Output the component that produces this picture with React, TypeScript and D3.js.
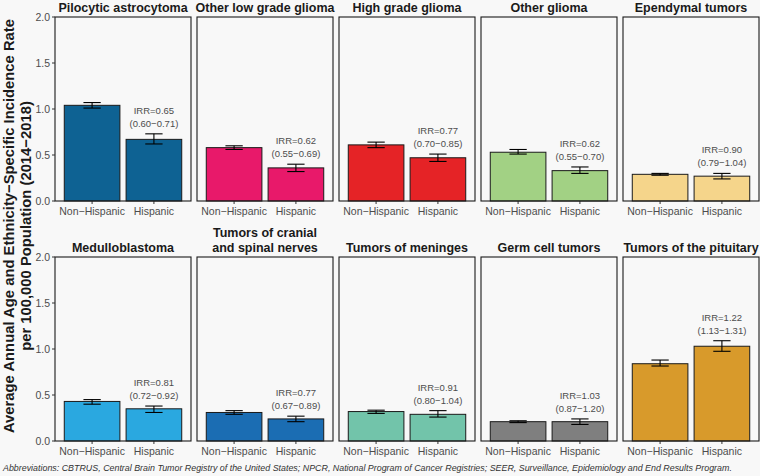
import React from "react";
import * as d3 from "d3";

const groups = ["Non−Hispanic", "Hispanic"];
const titles = [
  ["Pilocytic astrocytoma"],
  ["Other low grade glioma"],
  ["High grade glioma"],
  ["Other glioma"],
  ["Ependymal tumors"],
  ["Medulloblastoma"],
  ["Tumors of cranial", "and spinal nerves"],
  ["Tumors of meninges"],
  ["Germ cell tumors"],
  ["Tumors of the pituitary"],
];
const colors = [
  "#0e6293", "#e8196a", "#e52326", "#a2d184", "#f5d58b",
  "#2aa8e0", "#1b6db3", "#72c4aa", "#7f7f7f", "#d89a2b",
];
const nonHispanicRate = [1.04, 0.58, 0.61, 0.53, 0.29, 0.43, 0.31, 0.32, 0.21, 0.84];
const nonHispanicLow = [1.01, 0.56, 0.58, 0.51, 0.28, 0.40, 0.29, 0.30, 0.20, 0.815];
const nonHispanicHigh = [1.07, 0.60, 0.64, 0.56, 0.30, 0.45, 0.33, 0.335, 0.22, 0.88];
const hispanicRate = [0.67, 0.36, 0.47, 0.33, 0.27, 0.35, 0.24, 0.29, 0.21, 1.03];
const hispanicLow = [0.62, 0.32, 0.43, 0.30, 0.24, 0.31, 0.21, 0.26, 0.18, 0.975];
const hispanicHigh = [0.73, 0.40, 0.51, 0.37, 0.30, 0.38, 0.27, 0.33, 0.24, 1.09];
const irr = ["0.65", "0.62", "0.77", "0.62", "0.90", "0.81", "0.77", "0.91", "1.03", "1.22"];
const irrCI = ["0.60−0.71", "0.55−0.69", "0.70−0.85", "0.55−0.70", "0.79−1.04", "0.72−0.92", "0.67−0.89", "0.80−1.04", "0.87−1.20", "1.13−1.31"];
const yTicks = [0, 0.5, 1, 1.5, 2];

const W = 760;
const H = 476;
const panelW = 136;
const panelH = 184;
const panelLefts = [55, 197, 339, 481, 623];
const rowTops = [17, 257];
const bg = "#f8f8f8";
const font = "'Liberation Sans', Arial, Helvetica, sans-serif";

function Panel({ i }: { i: number }) {
  const col = i % 5;
  const row = Math.floor(i / 5);
  const x0 = panelLefts[col];
  const y0 = rowTops[row];
  const x = d3.scalePoint<string>().domain(groups).range([0, panelW]).padding(0.6);
  const y = d3.scaleLinear().domain([0, 2]).range([panelH, 0]);
  const step = x.step();
  const bw = step * 0.9;
  const cw = step * 0.28;
  const vals = [nonHispanicRate[i], hispanicRate[i]];
  const lows = [nonHispanicLow[i], hispanicLow[i]];
  const highs = [nonHispanicHigh[i], hispanicHigh[i]];
  const hx = x("Hispanic")!;
  const topErr = y(hispanicHigh[i]);
  const t = titles[i];
  return (
    <g transform={`translate(${x0},${y0})`}>
      <rect x={0} y={0} width={panelW} height={panelH} fill={bg} />
      {groups.map((g, k) => {
        const cx = x(g)!;
        return (
          <g key={g}>
            <rect
              x={cx - bw / 2}
              y={y(vals[k])}
              width={bw}
              height={panelH - y(vals[k])}
              fill={colors[i]}
              stroke="#1a1a1a"
              strokeWidth={1}
            />
            <line x1={cx} x2={cx} y1={y(lows[k])} y2={y(highs[k])} stroke="#000" strokeWidth={1.1} />
            <line x1={cx - cw / 2} x2={cx + cw / 2} y1={y(lows[k])} y2={y(lows[k])} stroke="#000" strokeWidth={1.1} />
            <line x1={cx - cw / 2} x2={cx + cw / 2} y1={y(highs[k])} y2={y(highs[k])} stroke="#000" strokeWidth={1.1} />
            <line x1={cx} x2={cx} y1={panelH} y2={panelH + 3} stroke="#333" strokeWidth={1} />
            <text
              x={cx}
              y={panelH + 14}
              textAnchor="middle"
              fontSize={10.5}
              fill="#4d4d4d"
              fontFamily={font}
            >
              {g}
            </text>
          </g>
        );
      })}
      <text x={hx} y={topErr - 20} textAnchor="middle" fontSize={9.5} fill="#4d4d4d" fontFamily={font}>
        {`IRR=${irr[i]}`}
      </text>
      <text x={hx} y={topErr - 7} textAnchor="middle" fontSize={9.5} fill="#4d4d4d" fontFamily={font}>
        {`(${irrCI[i]})`}
      </text>
      <rect x={0} y={0} width={panelW} height={panelH} fill="none" stroke="#1a1a1a" strokeWidth={1.1} />
      {t.map((line, k) => (
        <text
          key={k}
          x={panelW / 2}
          y={-5 - (t.length - 1 - k) * 15}
          textAnchor="middle"
          fontSize={12.5}
          fontWeight="bold"
          fill="#1a1a1a"
          fontFamily={font}
        >
          {line}
        </text>
      ))}
      {col === 0 &&
        yTicks.map((v) => (
          <g key={v}>
            <line x1={-3} x2={0} y1={y(v)} y2={y(v)} stroke="#333" strokeWidth={1} />
            <text
              x={-5}
              y={y(v) + 3.7}
              textAnchor="end"
              fontSize={10.5}
              fill="#4d4d4d"
              fontFamily={font}
            >
              {d3.format(".1f")(v)}
            </text>
          </g>
        ))}
    </g>
  );
}

export default function App() {
  const cy = 226;
  return (
    <svg
      width={W}
      height={H}
      style={{ position: "absolute", left: 0, top: 0, background: bg }}
    >
      <rect x={0} y={0} width={W} height={H} fill={bg} />
      {titles.map((_, i) => (
        <Panel key={i} i={i} />
      ))}
      <text
        transform={`translate(14,${cy}) rotate(-90)`}
        textAnchor="middle"
        fontSize={14.8}
        fontWeight="bold"
        fill="#1a1a1a"
        fontFamily={font}
      >
        Average Annual Age and Ethnicity−Specific Incidence Rate
      </text>
      <text
        transform={`translate(31,${cy}) rotate(-90)`}
        textAnchor="middle"
        fontSize={14.8}
        fontWeight="bold"
        fill="#1a1a1a"
        fontFamily={font}
      >
        per 100,000 Population (2014−2018)
      </text>
      <text
        x={3}
        y={471}
        fontSize={8.9}
        fontStyle="italic"
        fill="#333"
        fontFamily={font}
      >
        Abbreviations: CBTRUS, Central Brain Tumor Registry of the United States; NPCR, National Program of Cancer Registries; SEER, Surveillance, Epidemiology and End Results Program.
      </text>
    </svg>
  );
}
